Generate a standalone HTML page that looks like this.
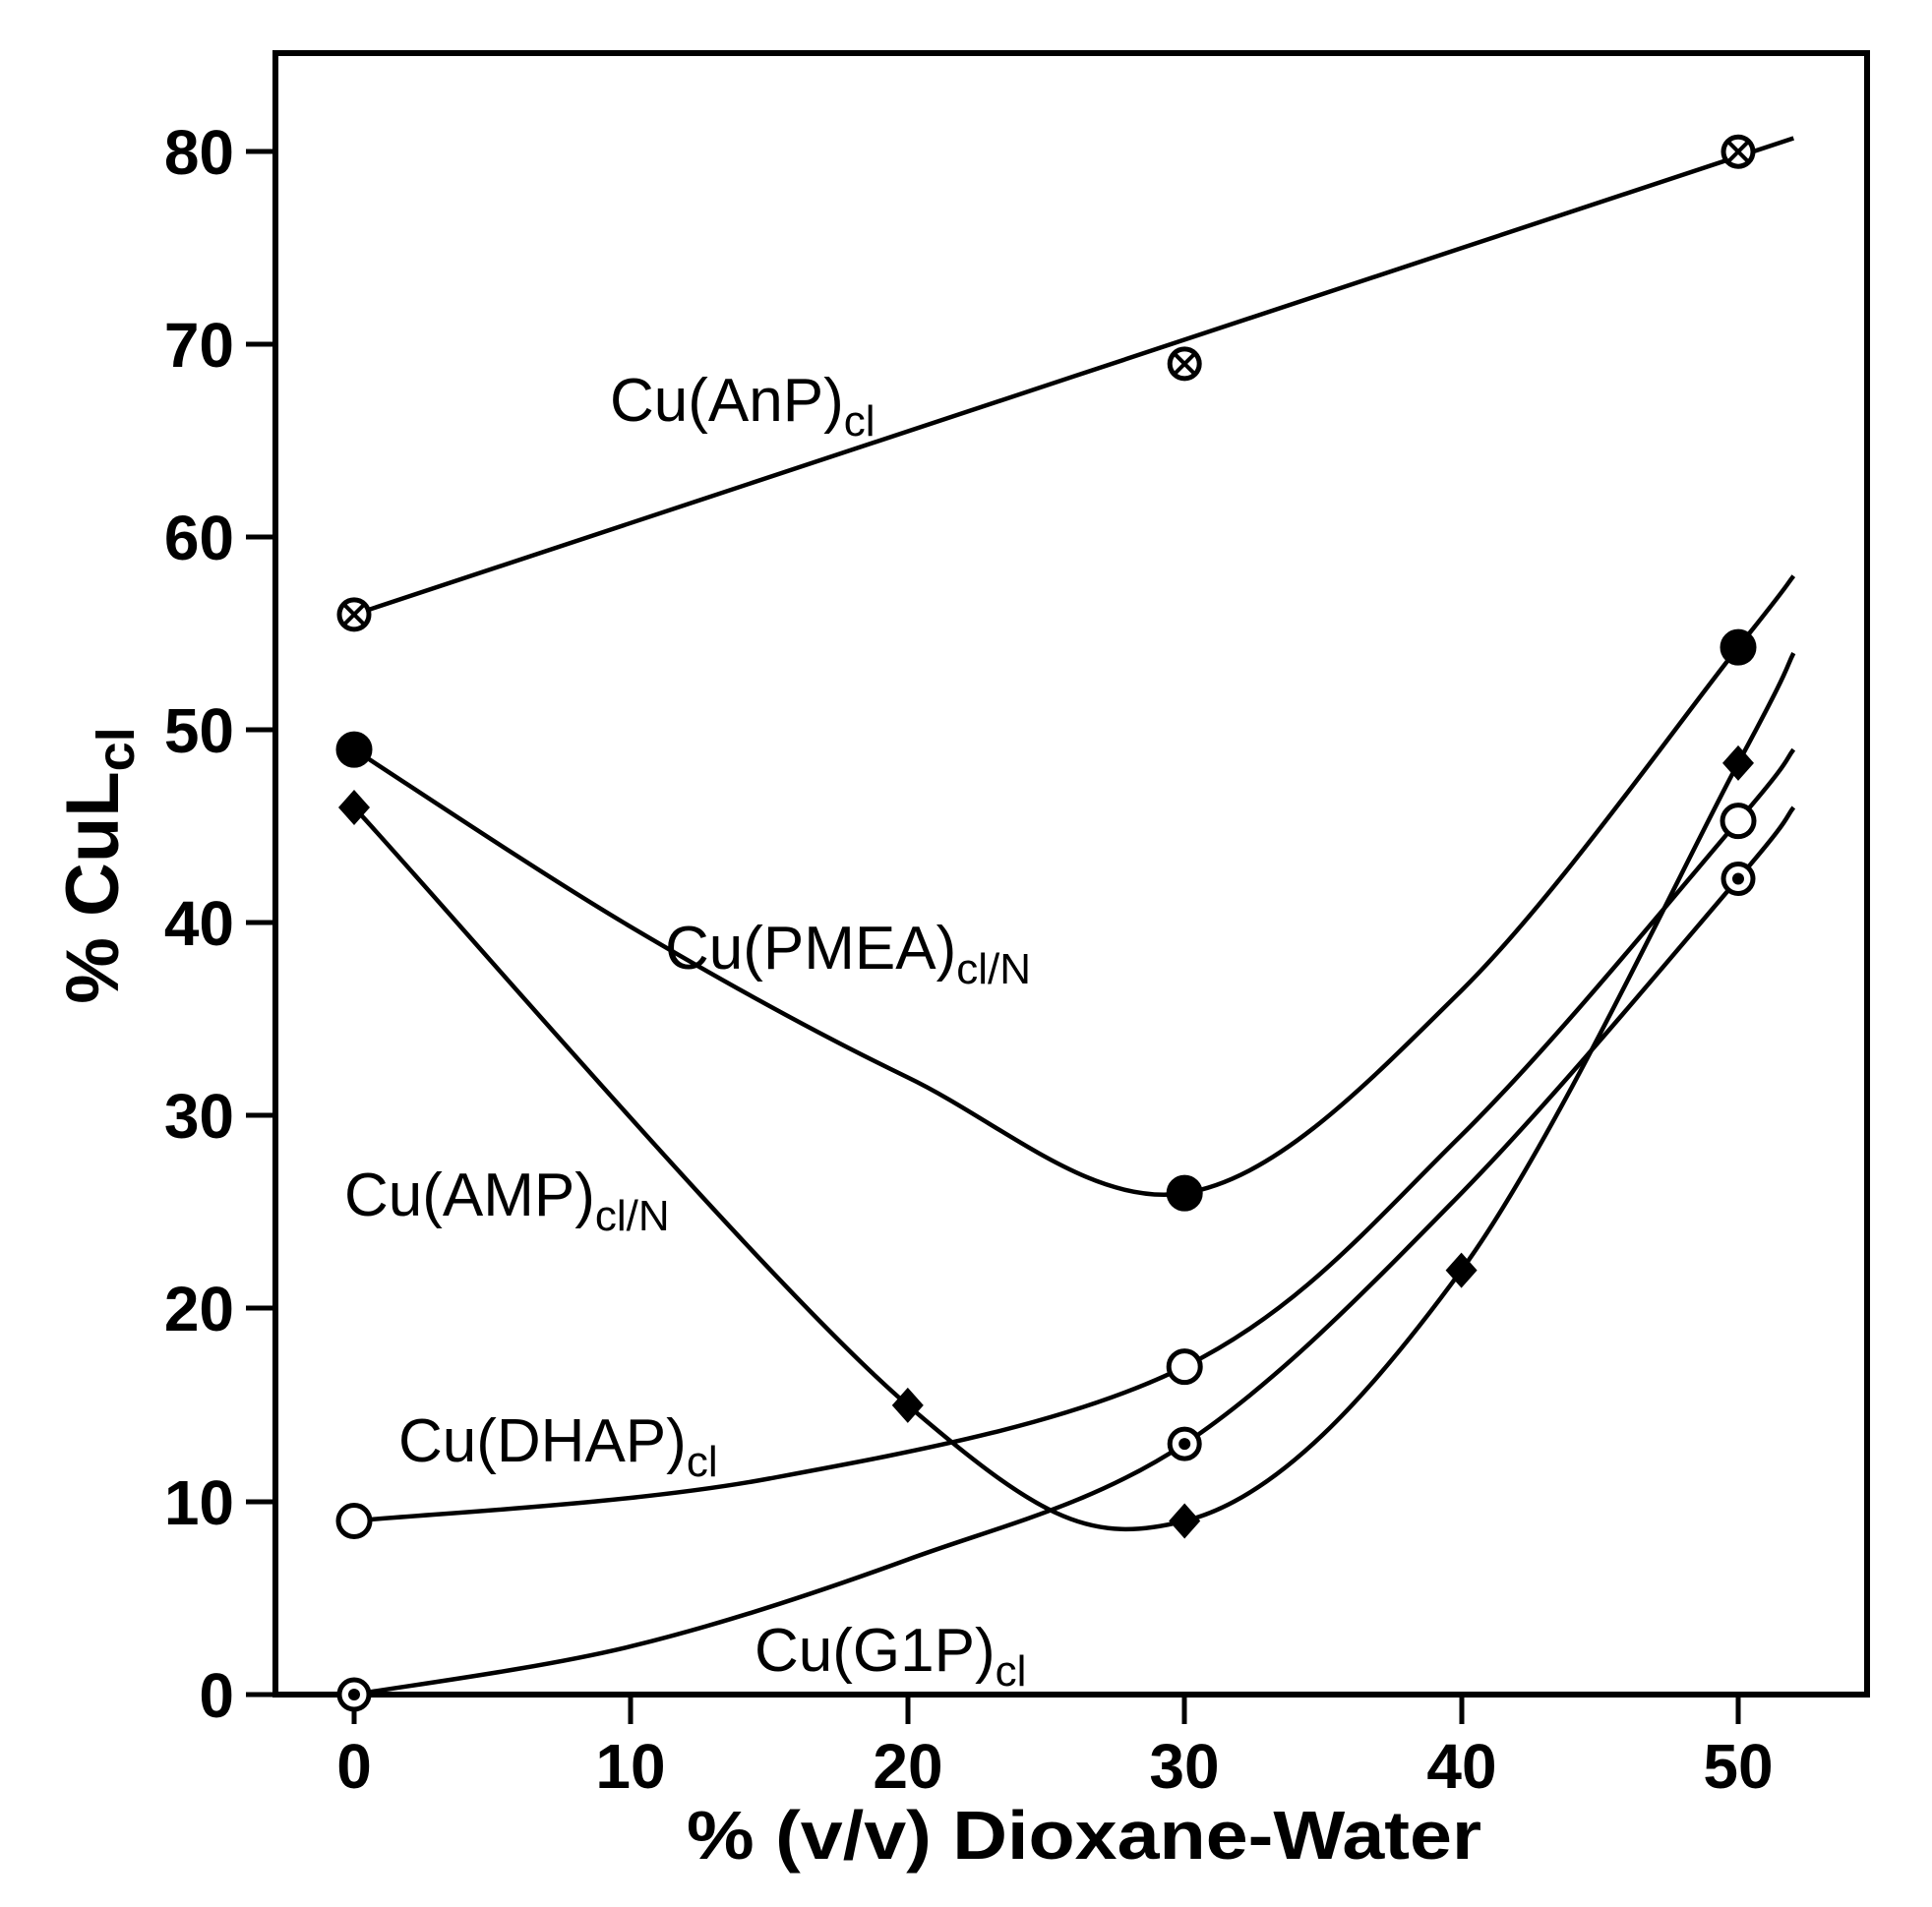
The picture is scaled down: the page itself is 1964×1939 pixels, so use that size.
<!DOCTYPE html>
<html><head><style>html,body{margin:0;padding:0;background:#fff}svg{display:block}</style></head>
<body>
<svg id="s" width="1964" height="1939" viewBox="0 0 1964 1939" xmlns="http://www.w3.org/2000/svg" font-family="Liberation Sans, Arial, sans-serif">
<rect x="0" y="0" width="1964" height="1939" fill="#fff"/>
<rect x="280" y="54" width="1618" height="1669" fill="none" stroke="#000" stroke-width="6"/>
<g stroke="#000" stroke-width="5">
<line x1="250" y1="154" x2="280" y2="154"/><line x1="250" y1="350" x2="280" y2="350"/>
<line x1="250" y1="546" x2="280" y2="546"/><line x1="250" y1="742" x2="280" y2="742"/>
<line x1="250" y1="938" x2="280" y2="938"/><line x1="250" y1="1134" x2="280" y2="1134"/>
<line x1="250" y1="1330" x2="280" y2="1330"/><line x1="250" y1="1527" x2="280" y2="1527"/>
<line x1="250" y1="1723" x2="280" y2="1723"/>
<line x1="360" y1="1723" x2="360" y2="1753"/><line x1="641" y1="1723" x2="641" y2="1753"/>
<line x1="923" y1="1723" x2="923" y2="1753"/><line x1="1204" y1="1723" x2="1204" y2="1753"/>
<line x1="1486" y1="1723" x2="1486" y2="1753"/><line x1="1767" y1="1723" x2="1767" y2="1753"/>
</g>
<g font-size="64" font-weight="bold" text-anchor="end">
<text x="238" y="177">80</text><text x="238" y="373">70</text><text x="238" y="569">60</text>
<text x="238" y="765">50</text><text x="238" y="961">40</text><text x="238" y="1157">30</text>
<text x="238" y="1353">20</text><text x="238" y="1550">10</text><text x="238" y="1746">0</text>
</g>
<g font-size="64" font-weight="bold" text-anchor="middle">
<text x="360" y="1818">0</text><text x="641" y="1818">10</text><text x="923" y="1818">20</text>
<text x="1204" y="1818">30</text><text x="1486" y="1818">40</text><text x="1767" y="1818">50</text>
</g>
<text x="1102" y="1890" font-size="70" font-weight="bold" text-anchor="middle" textLength="808" lengthAdjust="spacingAndGlyphs">% (v/v) Dioxane-Water</text>
<text transform="translate(120,880) rotate(-90)" font-size="76" font-weight="bold" text-anchor="middle">% CuL<tspan font-size="54" dy="16">cl</tspan></text>
<g font-size="62">
<text x="620" y="428">Cu(AnP)<tspan font-size="44" dy="15">cl</tspan></text>
<text x="676" y="985">Cu(PMEA)<tspan font-size="44" dy="15">cl/N</tspan></text>
<text x="350" y="1236">Cu(AMP)<tspan font-size="44" dy="15">cl/N</tspan></text>
<text x="405" y="1486">Cu(DHAP)<tspan font-size="44" dy="15">cl</tspan></text>
<text x="767" y="1699">Cu(G1P)<tspan font-size="44" dy="15">cl</tspan></text>
</g>
<g id="curves" fill="none" stroke="#000" stroke-width="4.5"></g>
<g id="marks"></g>
</svg>
<script>
function X(x){return 360+28.14*x}function Y(y){return 1723-19.61*y}
function cr(pts){pts=pts.map(p=>[X(p[0]),Y(p[1])]);let d="M"+pts[0][0]+","+pts[0][1];
for(let i=0;i<pts.length-1;i++){const p0=pts[i-1]||pts[i],p1=pts[i],p2=pts[i+1],p3=pts[i+2]||p2;
d+=" C"+(p1[0]+(p2[0]-p0[0])/6)+","+(p1[1]+(p2[1]-p0[1])/6)+" "+(p2[0]-(p3[0]-p1[0])/6)+","+(p2[1]-(p3[1]-p1[1])/6)+" "+p2[0]+","+p2[1];}return d;}
const NS="http://www.w3.org/2000/svg";
const series=[
[[0,56],[52,80.7]],
[[0,49],[10,39.8],[20,32],[30,26],[40,36.5],[50,54.3],[52,58]],
[[0,46],[20,15],[30,9],[40,22],[50,48.3],[52,54]],
[[0,9],[15,11.2],[30,17],[40,29],[50,45.3],[52,49]],
[[0,0],[10,2.5],[20,7],[30,13],[40,26],[50,42.3],[52,46]]];
const g=document.getElementById("curves");
series.forEach(s=>{const p=document.createElementNS(NS,"path");p.setAttribute("d",cr(s));g.appendChild(p);});
let m="";
function circ(x,y,fill,r){return `<circle cx="${X(x)}" cy="${Y(y)}" r="${r||15}" fill="${fill}" stroke="#000" stroke-width="5"/>`}
[[0,56],[30,69],[50,80]].forEach(p=>{m+=circ(p[0],p[1],"#fff");const cx=X(p[0]),cy=Y(p[1]);
m+=`<path d="M${cx-9},${cy-9}L${cx+9},${cy+9}M${cx-9},${cy+9}L${cx+9},${cy-9}" stroke="#000" stroke-width="4"/>`;});
[[0,49],[30,26],[50,54.3]].forEach(p=>m+=circ(p[0],p[1],"#000",16));
[[0,46],[20,15],[30,9],[40,22],[50,48.3]].forEach(p=>{const cx=X(p[0]),cy=Y(p[1]);m+=`<path d="M${cx},${cy-18}L${cx+16},${cy}L${cx},${cy+18}L${cx-16},${cy}Z" fill="#000"/>`;});
[[0,9],[30,17],[50,45.3]].forEach(p=>m+=circ(p[0],p[1],"#fff",16));
[[0,0],[30,13],[50,42.3]].forEach(p=>{m+=circ(p[0],p[1],"#fff");m+=`<circle cx="${X(p[0])}" cy="${Y(p[1])}" r="6" fill="#000"/>`;});
document.getElementById("marks").innerHTML=m;
</script>
</body></html>
